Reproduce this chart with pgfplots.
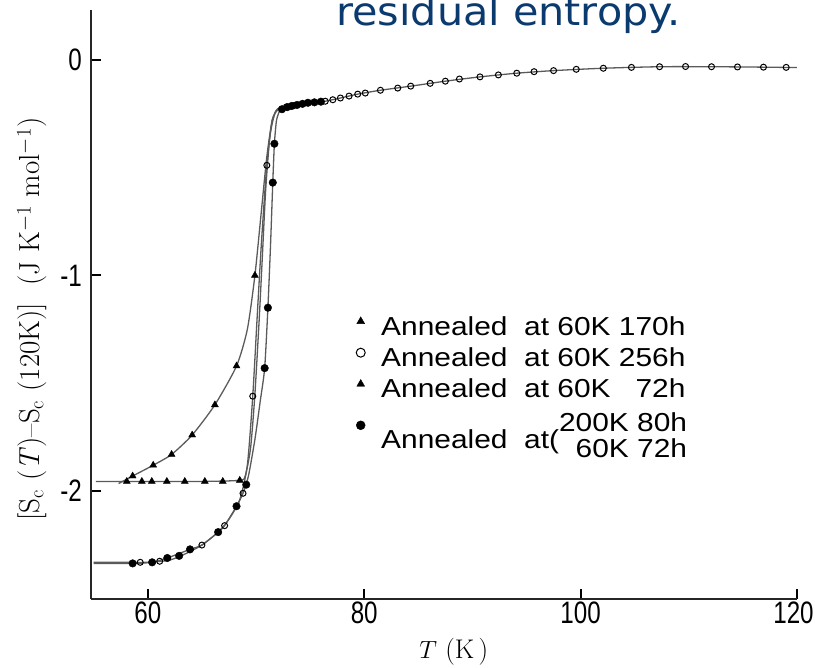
\documentclass[border=0pt]{standalone}
\usepackage{pgfplots}
\pgfplotsset{compat=1.18}
\usepackage{fontspec}
\newfontfamily\tickfont[FakeStretch=0.78]{Liberation Sans}
\newfontfamily\legfont[FakeStretch=1.15]{Liberation Sans}
\newfontfamily\titlefont[FakeStretch=1.06]{DejaVu Sans}
\definecolor{titleblue}{HTML}{0B3A6E}
\definecolor{crv}{HTML}{5A5A5A}
\begin{document}
\begin{tikzpicture}[x=1pt,y=1pt]
\path[use as bounding box] (0,0) rectangle (815,668);
\node[anchor=base west, inner sep=0pt, text=titleblue,
      font=\titlefont\fontsize{39}{43}\selectfont] at (336,642) {residual entropy.};
\begin{axis}[
  at={(91pt,69pt)}, anchor=south west,
  scale only axis, width=706pt, height=589pt,
  xmin=54.75, xmax=120, ymin=-2.5, ymax=0.23,
  axis x line*=bottom, axis y line*=left,
  axis line style={line width=2.4pt, black!85},
  xtick={60,80,100,120}, xticklabels={60,80,100,\hspace*{-7pt}120},
  ytick={-2,-1,0}, yticklabels={-2,-1,0},
  tick align=inside, major tick length=10pt,
  tick style={line width=2pt, black},
  ticklabel style={font=\tickfont\fontsize{31}{33}\selectfont, inner sep=0pt},
  xticklabel style={anchor=north, yshift=-3pt},
  yticklabel style={anchor=east, xshift=-9pt},
  xlabel={$T$\ (K\,)},
  ylabel={[S\textsubscript{c}\ (\textit{T})--S\textsubscript{c}\ (120K)]\ \ (J\ K$^{-1}$\ mol$^{-1}$)},
  every axis x label/.style={at={(axis description cs:0.514,-0.09)}, anchor=center,
     font=\fontsize{27}{30}\selectfont},
  every axis y label/.style={at={(axis description cs:-0.0836,0.4754)}, anchor=center, rotate=90,
     font=\fontsize{29}{32}\selectfont},
  legend cell align=left,
  legend style={at={(0.3754,0.4805)}, anchor=north west, draw=none, fill=none,
     inner sep=0pt, row sep=11pt, column sep=16pt,
     font=\legfont\fontsize{26}{30}\selectfont, nodes={inner sep=0pt}},
  legend image code/.code={\draw[#1, only marks, mark size=4.5pt] plot coordinates {(0pt,5pt)};},
]
% ---- curves (lines) ----
% upper common branch
\addplot[crv, line width=1.3pt, smooth, tension=0.4, forget plot] coordinates {
(72.2,-0.235)(72.6,-0.222)(73.5,-0.213)(75,-0.203)(76.4,-0.193)(77.8,-0.178)(79.4,-0.160)
(81.5,-0.142)(84.3,-0.123)(87.5,-0.100)(90.7,-0.080)(94.1,-0.063)(97.5,-0.051)(102.1,-0.040)
(107.3,-0.033)(112.1,-0.033)(116.9,-0.035)(120,-0.037)};
% sloped triangles
\addplot[crv, line width=1.3pt, smooth, tension=0.4, forget plot] coordinates {
(57.3,-1.965)(58.6,-1.93)(60.5,-1.88)(62.2,-1.83)(64.1,-1.74)(66.2,-1.60)(68.2,-1.42)
(69.2,-1.25)(69.9,-1.00)(70.5,-0.70)(71.0,-0.45)(71.5,-0.28)(72.0,-0.228)(72.4,-0.225)};
% flat triangles
\addplot[crv, line width=1.3pt, smooth, tension=0.4, forget plot] coordinates {
(55.2,-1.955)(58.1,-1.955)(61.8,-1.955)(65.3,-1.955)(68.5,-1.95)(69.0,-1.93)(69.5,-1.80)
(69.9,-1.55)(70.3,-1.20)(70.6,-0.90)(70.9,-0.60)(71.3,-0.35)(71.8,-0.24)(72.2,-0.225)};
% open circles 256h
\addplot[crv, line width=1.3pt, smooth, tension=0.4, forget plot] coordinates {
(55.0,-2.33)(58,-2.33)(60,-2.33)(62,-2.32)(63.5,-2.29)(65,-2.25)(66.5,-2.19)(67.5,-2.13)
(68.5,-2.04)(69.2,-1.88)(69.7,-1.56)(70.1,-1.20)(70.5,-0.85)(71.0,-0.49)(71.5,-0.28)
(72.1,-0.228)(72.5,-0.222)};
% filled circles
\addplot[crv, line width=1.3pt, smooth, tension=0.4, forget plot] coordinates {
(55.0,-2.335)(58.6,-2.335)(60.4,-2.33)(61.8,-2.31)(63.9,-2.27)(65.0,-2.25)(66.5,-2.19)
(67.1,-2.16)(68.2,-2.07)(68.8,-2.01)(69.3,-1.93)(69.9,-1.76)(70.4,-1.58)(70.8,-1.43)
(71.1,-1.15)(71.35,-0.85)(71.55,-0.57)(71.7,-0.39)(71.9,-0.28)(72.2,-0.235)};
% ---- marks ----
\addplot[only marks, mark=triangle*, mark size=4pt, black] coordinates {
(58.06,-1.955)(59.45,-1.955)(60.37,-1.955)(61.76,-1.955)(63.42,-1.955)(65.27,-1.955)(66.93,-1.955)(68.5,-1.95)};
\addlegendentry{Annealed~~at 60K 170h}
\addplot[only marks, mark=o, mark size=3pt, black, mark options={line width=1pt}] coordinates {
(59.3,-2.33)(61.1,-2.325)(65.0,-2.25)(67.1,-2.16)(68.8,-2.01)(69.7,-1.56)(71.0,-0.49)
(72.8,-0.22)(73.5,-0.213)(76.4,-0.193)(77.1,-0.186)(77.8,-0.178)(78.6,-0.169)(79.4,-0.160)
(80.1,-0.155)(81.5,-0.142)(83.1,-0.132)(84.3,-0.123)(86.1,-0.110)(87.5,-0.100)(88.8,-0.090)
(90.7,-0.080)(92.4,-0.071)(94.1,-0.063)(95.7,-0.056)(97.5,-0.051)(99.6,-0.045)(102.1,-0.040)
(104.7,-0.036)(107.3,-0.033)(109.7,-0.032)(112.1,-0.033)(114.5,-0.034)(116.9,-0.035)(119.0,-0.036)};
\addlegendentry{Annealed~~at 60K 256h}
\addplot[only marks, mark=triangle*, mark size=4pt, black] coordinates {
(58.6,-1.93)(60.5,-1.88)(62.2,-1.83)(64.1,-1.74)(66.2,-1.60)(68.2,-1.42)(69.9,-1.00)};
\addlegendentry{Annealed~~at 60K \hphantom{1}72h}
\addplot[only marks, mark=*, mark size=3.8pt, black] coordinates {
(58.6,-2.335)(60.4,-2.33)(61.8,-2.31)(62.9,-2.30)(63.9,-2.27)(66.5,-2.19)(68.2,-2.07)
(69.1,-1.97)(70.8,-1.43)(71.1,-1.15)(71.55,-0.57)(71.7,-0.39)
(72.4,-0.23)(72.9,-0.22)(73.3,-0.215)(73.8,-0.21)(74.3,-0.205)(74.8,-0.20)(75.4,-0.198)(76.0,-0.195)};
\addlegendentry{Annealed~~at(\raisebox{4.5pt}{\begin{tabular}[c]{@{}r@{}}200K 80h\\[-4pt]60K 72h\end{tabular}}}
\end{axis}
\end{tikzpicture}
\end{document}
